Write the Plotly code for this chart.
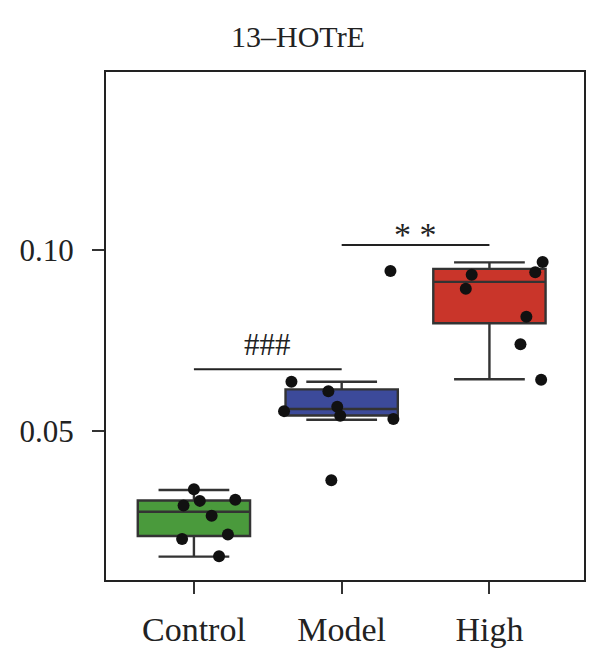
import plotly.graph_objects as go

categories = ["Control", "Model", "High"]
fill_colors = ["#4a9a3c", "#3c4a9a", "#c9352a"]

# box statistics
q1 = [0.0210, 0.0543, 0.0798]
median = [0.0277, 0.0561, 0.0912]
q3 = [0.0308, 0.0615, 0.0948]
lower_fence = [0.0153, 0.0531, 0.0643]
upper_fence = [0.0337, 0.0636, 0.0966]

# individual points (value, horizontal jitter in category units)
control_vals = [0.0339, 0.0307, 0.0310, 0.0294, 0.0266, 0.0214, 0.0202, 0.0154]
control_jit = [0.00, 0.04, 0.28, -0.07, 0.12, 0.23, -0.08, 0.17]
model_vals = [0.0636, 0.0610, 0.0567, 0.0542, 0.0555, 0.0533, 0.0364, 0.0942]
model_jit = [-0.34, -0.09, -0.03, -0.01, -0.39, 0.35, -0.07, 0.33]
high_vals = [0.0967, 0.0939, 0.0932, 0.0893, 0.0816, 0.0740, 0.0642]
high_jit = [0.36, 0.31, -0.12, -0.16, 0.25, 0.21, 0.35]

sig_labels = ["###", "* *"]
sig_pairs = [(0, 1), (1, 2)]
sig_levels = [0.0671, 0.1014]

y_tickvals = [0.05, 0.10]
y_ticktext = ["0.05", "0.10"]

FONT = "Liberation Serif"
EDGE = "#333333"

fig = go.Figure()
for i, cat in enumerate(categories):
    fig.add_trace(go.Box(
        x=[i], q1=[q1[i]], median=[median[i]], q3=[q3[i]],
        lowerfence=[lower_fence[i]], upperfence=[upper_fence[i]],
        fillcolor=fill_colors[i], line=dict(color=EDGE, width=2.4),
        width=0.76, whiskerwidth=0.63, boxpoints=False,
        showlegend=False, hoverinfo="skip",
    ))

groups = [(control_vals, control_jit), (model_vals, model_jit), (high_vals, high_jit)]
for i, (vals, jit) in enumerate(groups):
    fig.add_trace(go.Scatter(
        x=[i + j for j in jit], y=vals, mode="markers",
        marker=dict(color="#111111", size=12), showlegend=False,
    ))

for lab, (a, b), lev in zip(sig_labels, sig_pairs, sig_levels):
    fig.add_trace(go.Scatter(
        x=[a, b], y=[lev, lev], mode="lines",
        line=dict(color="#222222", width=2), showlegend=False, hoverinfo="skip",
    ))
    is_hash = lab.startswith("#")
    fig.add_annotation(
        x=(a + b) / 2, y=lev, text=lab, showarrow=False,
        yanchor="bottom", yshift=5 if is_hash else -10,
        font=dict(family=FONT, size=31 if is_hash else 34, color="#222222"),
    )

fig.update_layout(
    width=600, height=668,
    margin=dict(l=98, r=24, t=64, b=96),
    paper_bgcolor="white", plot_bgcolor="white",
    title=dict(text="13–HOTrE", x=290 / 600, xanchor="center",
               y=1 - 28 / 668, yanchor="middle",
               font=dict(family=FONT, size=30, color="#222222")),
    font=dict(family=FONT, size=30, color="#222222"),
)
fig.update_xaxes(
    range=[-0.595, 2.64], tickvals=[0, 1, 2], ticktext=categories,
    showgrid=False, zeroline=False, showline=True, mirror=True,
    linecolor="#222222", linewidth=2, ticks="outside", ticklen=12,
    tickwidth=2, tickcolor="#333333", tickfont=dict(family=FONT, size=34),
    automargin=False, ticklabelstandoff=6,
)
fig.update_yaxes(
    range=[0.00884, 0.1492], tickvals=y_tickvals, ticktext=y_ticktext,
    showgrid=False, zeroline=False, showline=True, mirror=True,
    linecolor="#222222", linewidth=2, ticks="outside", ticklen=12,
    tickwidth=2, tickcolor="#333333", tickfont=dict(family=FONT, size=31),
    automargin=False, ticklabelstandoff=12,
)

fig.write_html("out.html")
